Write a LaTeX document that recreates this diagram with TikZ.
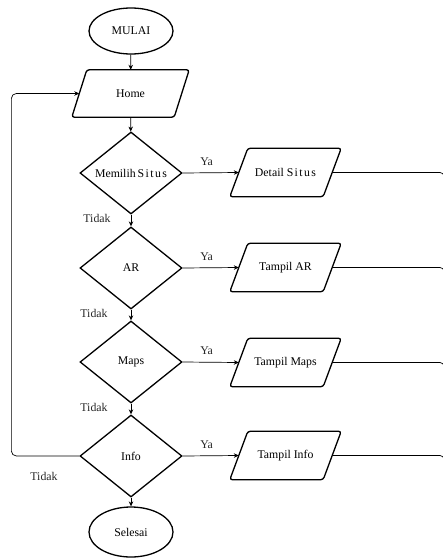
\documentclass[tikz,border=0pt]{standalone}
\usepackage{fontspec}
\setmainfont{Liberation Serif}
\usetikzlibrary{shapes.geometric,arrows.meta}
\newcommand{\spaced}[1]{{\addfontfeature{LetterSpace=12}#1}}
\begin{document}
\begin{tikzpicture}[x=1pt,y=-1pt,
  font=\fontsize{11.8}{14}\selectfont,
  shapeline/.style={line width=1.3pt,black},
  terminal/.style={ellipse,draw,shapeline,inner sep=0pt,minimum width=84pt},
  decision/.style={diamond,draw,shapeline,inner sep=0pt,minimum width=102pt,minimum height=82pt},
  iobox/.style={rectangle,inner sep=0pt,minimum height=48pt},
  flow/.style={line width=0.7pt,-{Stealth[length=5pt,width=4.5pt]}},
  plainline/.style={line width=0.7pt},
  lbl/.style={inner sep=1pt,text=black!85}
]
\useasboundingbox (0,0) rectangle (443,559);

% main column
\node[terminal,minimum height=46pt] (start) at (131,31) {MULAI};
\node[iobox,minimum width=102pt,minimum height=47pt] (home) at (130.5,93.5) {Home};
\node[decision] (situs) at (131,173) {Memilih\,\spaced{Situs}};
\node[decision] (ar) at (131,268) {AR};
\node[decision] (maps) at (131,362) {Maps};
\node[decision] (info) at (131,456) {Info};
\node[terminal,minimum height=50pt] (end) at (131,532) {Selesai};

% output boxes
\node[iobox,minimum width=93pt] (detail) at (285.5,172.5) {Detail \spaced{Situs}};
\node[iobox,minimum width=93pt] (tar) at (285.5,267.5) {Tampil AR};
\node[iobox,minimum width=93pt] (tmaps) at (285.5,362.5) {Tampil Maps};
\node[iobox,minimum width=93pt] (tinfo) at (285.5,455.5) {Tampil Info};

% parallelogram outlines around the input/output nodes
\draw[shapeline,rounded corners=2.5pt]
  ([xshift=7.5]home.north west) -- ([xshift=7.5]home.north east) --
  ([xshift=-7.5]home.south east) -- ([xshift=-7.5]home.south west) -- cycle;
\foreach \n in {detail,tar,tmaps,tinfo}
  \draw[shapeline,rounded corners=2.5pt]
    ([xshift=9]\n.north west) -- ([xshift=9]\n.north east) --
    ([xshift=-9]\n.south east) -- ([xshift=-9]\n.south west) -- cycle;

% vertical flow
\draw[flow] (start) -- (home);
\draw[flow] (home) -- (situs);
\draw[flow] (situs) -- (ar);
\draw[flow] (ar) -- (maps);
\draw[flow] (maps) -- (info);
\draw[flow] (info) -- (end);

% "Ya" branches
\foreach \d/\o in {situs/detail,ar/tar,maps/tmaps,info/tinfo}{
  \draw[flow] (\d.east) -- (\o.west);
  \node[lbl] at ([xshift=24,yshift=11]\d.east) {Ya};
}

% return lines leaving the output boxes
\coordinate (rx) at (444,0);
\foreach \o in {detail,tar,tmaps,tinfo}
  \draw[plainline,rounded corners=4pt] (\o.east) -- (rx |- \o.east) -- ++(0,20);

% loop back from the last decision to Home
\draw[flow,rounded corners=5pt] (info.west) -- ++(-68,0) |- (home.west);

% "Tidak" labels
\node[lbl] at (97,218) {Tidak};
\node[lbl] at (94,313) {Tidak};
\node[lbl] at (94,407) {Tidak};
\node[lbl] at (44,476) {Tidak};
\end{tikzpicture}
\end{document}
